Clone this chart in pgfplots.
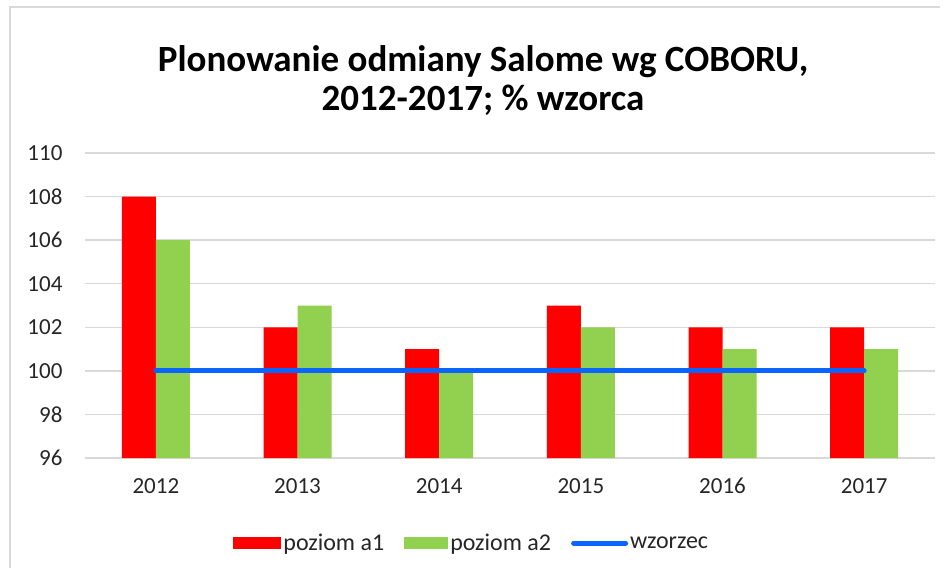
\documentclass[border=0pt]{standalone}
\usepackage{fontspec}
\setmainfont{Carlito}
\usepackage{pgfplots}
\pgfplotsset{compat=1.18}
\definecolor{cred}{HTML}{FF0000}
\definecolor{cgreen}{HTML}{92D050}
\definecolor{cblue}{HTML}{0A64FF}
\definecolor{cgrid}{HTML}{D9D9D9}
\definecolor{ctext}{HTML}{262626}
\begin{document}
\begin{tikzpicture}[x=1pt,y=1pt]
\path (0,0) rectangle (944,573);
\draw[cgrid,line width=1.5pt] (10,5) -- (10,566) -- (940,566);
\node[font=\fontsize{37}{39}\selectfont\bfseries,align=center,text=black] at (483,492) {Plonowanie odmiany Salome wg COBORU,\\2012-2017; \% wzorca};
\begin{axis}[
  at={(85pt,115pt)}, anchor=south west,
  scale only axis, width=850pt, height=305pt,
  xmin=-0.5, xmax=5.5, ymin=96, ymax=110,
  ytick={96,98,...,110},
  xtick={0,1,2,3,4,5},
  xticklabels={2012,2013,2014,2015,2016,2017},
  ymajorgrids, grid style={cgrid,line width=1.3pt},
  axis line style={draw=none},
  major tick length=0pt,
  tick label style={font=\fontsize{23}{26}\selectfont,text=ctext},
  yticklabel style={xshift=-19pt},
  xticklabel style={yshift=-18pt,text height=14pt,text depth=0pt},
  /pgf/number format/assume math mode=true,
  legend style={at={(0.455,-0.279)},anchor=center,draw=none,legend columns=-1,
    font=\fontsize{24}{27}\selectfont,text=ctext,
    /tikz/every even column/.append style={column sep=18pt}},
  clip=true,
]
\addplot[ybar, bar width=34pt, bar shift=-17pt, fill=cred, draw=none,
  area legend, legend image code/.code={\fill[cred] (0pt,-6pt) rectangle (48pt,6pt);}]
  coordinates {(0,108) (1,102) (2,101) (3,103) (4,102) (5,102)};
\addlegendentry{poziom a1}
\addplot[ybar, bar width=34pt, bar shift=17pt, fill=cgreen, draw=none,
  area legend, legend image code/.code={\fill[cgreen] (0pt,-6pt) rectangle (44pt,6pt);}]
  coordinates {(0,106) (1,103) (2,100) (3,102) (4,101) (5,101)};
\addlegendentry{poziom a2}
\addplot[cblue, line width=5pt, line cap=round, mark=none,
  legend image code/.code={\draw[cblue,line width=5pt,line cap=round] (0pt,0pt) -- (52pt,0pt);}]
  coordinates {(0,100) (1,100) (2,100) (3,100) (4,100) (5,100)};
\addlegendentry{wzorzec}
\end{axis}
\end{tikzpicture}
\end{document}
